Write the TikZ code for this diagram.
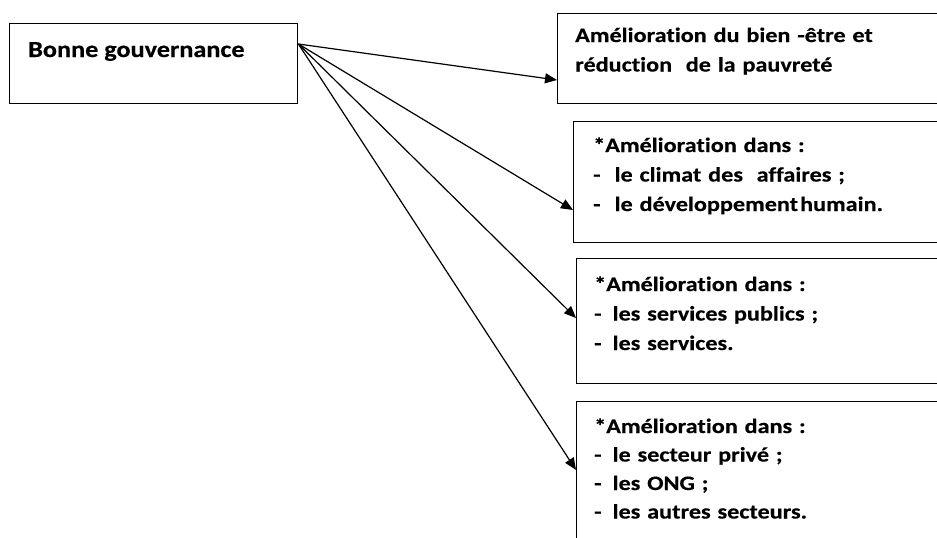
\documentclass[tikz,border=0pt]{standalone}
\usepackage{fontspec}
\usetikzlibrary{arrows.meta,calc}
\newfontfamily\boxfont{Carlito}[FakeStretch=1.18,FakeBold=0.4,Ligatures=NoCommon]
\newfontfamily\mainboxfont{Carlito}[FakeStretch=1.14,FakeBold=0.4,Ligatures=NoCommon]
\begin{document}
\begin{tikzpicture}[x=1pt,y=-1pt,
  box/.style={draw=black,line width=1.4pt,rectangle,inner sep=0pt,anchor=north west},
  txt/.style={anchor=base west,inner sep=0pt,align=left,text width=340pt,
    font=\boxfont\bfseries\fontsize{20.5}{29.5}\selectfont},
  conn/.style={line width=1.2pt,-{Triangle[length=12pt,width=10pt]}}]
\useasboundingbox (0,0) rectangle (937,538);
\fill[white] (0,0) rectangle (937,538);
\clip (0,0) rectangle (937,538);
% boxes
\node[box,minimum width=288pt,minimum height=80pt] (b1) at (9,23) {};
\node[box,minimum width=400pt,minimum height=90pt] (b2) at (557,13) {};
\node[box,minimum width=400pt,minimum height=121pt] (b3) at (573,121) {};
\node[box,minimum width=400pt,minimum height=125pt] (b4) at (576,258) {};
\node[box,minimum width=400pt,minimum height=160pt] (b5) at (576,401) {};
% texts
\node[anchor=base west,inner sep=0pt,font=\mainboxfont\bfseries\fontsize{23}{28}\selectfont] (t1) at (28,57) {Bonne gouvernance};
\node[txt] (t2) at (575,42) {Amélioration du bien -être et\\réduction\ \ de la pauvreté};
\node[txt] (t3) at (593,152) {*Amélioration dans :\\-\hspace{14pt}le climat des\ \ affaires ;\\-\hspace{14pt}le développement\hspace{2pt}humain.};
\node[txt,font=\boxfont\bfseries\fontsize{20.5}{29.5}\selectfont] (t4) at (594,291) {*Amélioration dans :\\-\hspace{11pt}les services publics ;\\-\hspace{11pt}les services.};
\node[txt,font=\boxfont\bfseries\fontsize{20.5}{28.5}\selectfont] (t5) at (594,433) {*Amélioration dans :\\-\hspace{11pt}le secteur privé ;\\-\hspace{11pt}les ONG ;\\-\hspace{11pt}les autres secteurs.};
% connectors
\coordinate (src) at ($(b1.north east)+(0,21)$);
\coordinate (e2) at ($(b2.north west)+(0,67)$);
\coordinate (e3) at ($(b3.north west)+(0,89)$);
\coordinate (e4) at ($(b4.north west)+(0,60)$);
\coordinate (e5) at ($(b5.north west)+(0,69)$);
\draw[conn] (src) -- (e2);
\draw[conn] (src) -- (e3);
\draw[conn] (src) -- (e4);
\draw[conn] (src) -- (e5);
\end{tikzpicture}
\end{document}
